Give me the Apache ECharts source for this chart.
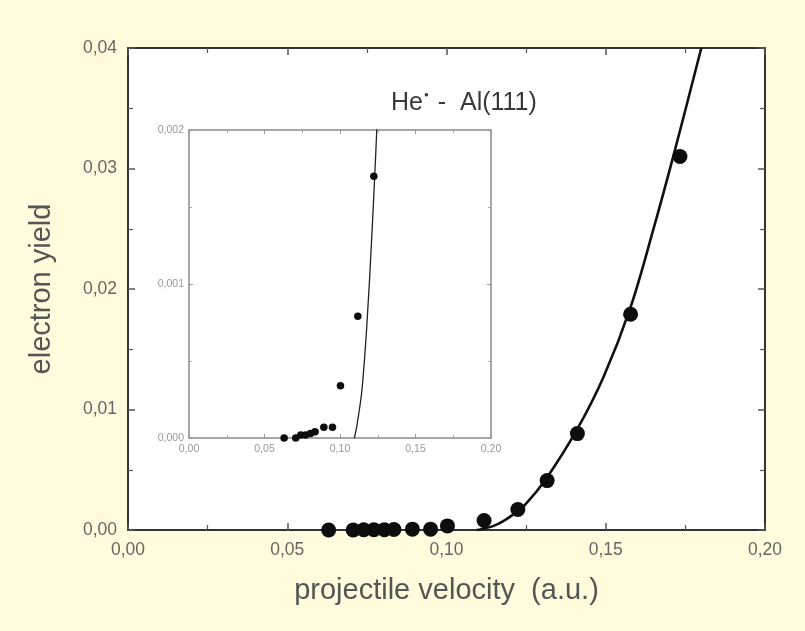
<!DOCTYPE html>
<html>
<head>
<meta charset="utf-8">
<script src="https://cdn.jsdelivr.net/npm/echarts@6/dist/echarts.min.js"></script>
<style>
html,body{margin:0;padding:0;background:#fffbdc;}
#chart{width:805px;height:631px;}
</style>
</head>
<body>
<div id="chart"></div>
<script>
// measured data points (projectile velocity in a.u., electron yield)
const velocity = [0.063, 0.0707, 0.074, 0.0772, 0.0805, 0.0835, 0.0893, 0.095, 0.1003, 0.1118, 0.1224, 0.1316, 0.1411, 0.1578, 0.1733];
const yieldValues = [0, 0, 0.00002, 0.00002, 0.00003, 0.00004, 0.00007, 0.00007, 0.00034, 0.00079, 0.0017, 0.0041, 0.008, 0.0179, 0.031];
// fitted curve
const curveVelocity = [0.1095, 0.111, 0.1144, 0.1177, 0.121, 0.1247, 0.1314, 0.1409, 0.1493, 0.1578, 0.1649, 0.1712, 0.18];
const curveYield = [0, 0.00007, 0.0003, 0.00072, 0.0013, 0.0021, 0.0043, 0.0083, 0.0127, 0.0185, 0.0249, 0.031, 0.04];
const xName = 'projectile velocity  (a.u.)';
const yName = 'electron yield';

const pts = velocity.map((v, i) => [v, yieldValues[i]]);
const curve = curveVelocity.map((v, i) => [v, curveYield[i]]);
const FONT = 'Liberation Sans, Arial, sans-serif';
const comma = d => v => v.toFixed(d).replace('.', ',');

function mkAxis(gi, pos, min, max, interval, opts) {
  return Object.assign({
    type: 'value', gridIndex: gi, position: pos, min: min, max: max, interval: interval,
    splitLine: {show: false}
  }, opts);
}

const mainLine = {color: '#333', width: 2};
const insetLine = {color: '#8a8a8a', width: 1.5};
const mainTick = {show: true, inside: true, length: 7, lineStyle: {color: '#555', width: 1.5}};
const mainMinor = {show: true, splitNumber: 2, length: 5, lineStyle: {color: '#555', width: 1.2}};
const insetTick = {show: true, inside: true, length: 4, lineStyle: {color: '#999', width: 1}};
const insetMinor = {show: true, splitNumber: 2, length: 3, lineStyle: {color: '#aaa', width: 1}};

const option = {
  backgroundColor: '#fffbdc',
  animation: false,
  textStyle: {fontFamily: FONT},
  title: {
    text: 'He{s|●} -  Al(111)',
    left: 386, top: 86,
    textStyle: {
      fontFamily: FONT, fontSize: 25, fontWeight: 'normal', color: '#3a3a3a',
      rich: {s: {fontSize: 8, verticalAlign: 'top', padding: [0, 2, 14, 1], color: '#3a3a3a', fontFamily: FONT}}
    }
  },
  grid: [
    {left: 128, top: 48, width: 637, height: 482, show: true, backgroundColor: '#ffffff', borderWidth: 0},
    {left: 189, top: 130, width: 302, height: 308, show: true, backgroundColor: '#ffffff', borderWidth: 0}
  ],
  xAxis: [
    mkAxis(0, 'bottom', 0, 0.2, 0.05, {
      name: xName, nameLocation: 'middle', nameGap: 46,
      nameTextStyle: {fontFamily: FONT, fontSize: 29, color: '#555'},
      axisLine: {show: true, onZero: false, lineStyle: mainLine},
      axisTick: mainTick, minorTick: mainMinor,
      axisLabel: {formatter: comma(2), fontSize: 17.5, color: '#666', margin: 11, fontFamily: FONT}
    }),
    mkAxis(0, 'top', 0, 0.2, 0.05, {
      axisLine: {show: true, onZero: false, lineStyle: mainLine},
      axisTick: mainTick, minorTick: mainMinor, axisLabel: {show: false}
    }),
    mkAxis(1, 'bottom', 0, 0.2, 0.05, {
      axisLine: {show: true, onZero: false, lineStyle: insetLine},
      axisTick: insetTick, minorTick: insetMinor,
      axisLabel: {formatter: comma(2), fontSize: 10.5, color: '#999', margin: 6, fontFamily: FONT}
    }),
    mkAxis(1, 'top', 0, 0.2, 0.05, {
      axisLine: {show: true, onZero: false, lineStyle: insetLine},
      axisTick: insetTick, minorTick: insetMinor, axisLabel: {show: false}
    })
  ],
  yAxis: [
    mkAxis(0, 'left', 0, 0.04, 0.01, {
      name: yName, nameLocation: 'middle', nameGap: 72, nameRotate: 90,
      nameTextStyle: {fontFamily: FONT, fontSize: 29, color: '#555'},
      axisLine: {show: true, onZero: false, lineStyle: mainLine},
      axisTick: mainTick, minorTick: mainMinor,
      axisLabel: {formatter: comma(2), fontSize: 17.5, color: '#666', margin: 11, fontFamily: FONT}
    }),
    mkAxis(0, 'right', 0, 0.04, 0.01, {
      axisLine: {show: true, onZero: false, lineStyle: mainLine},
      axisTick: mainTick, minorTick: mainMinor, axisLabel: {show: false}
    }),
    mkAxis(1, 'left', 0, 0.002, 0.001, {
      axisLine: {show: true, onZero: false, lineStyle: insetLine},
      axisTick: insetTick, minorTick: insetMinor,
      axisLabel: {formatter: comma(3), fontSize: 10.5, color: '#999', margin: 5, fontFamily: FONT}
    }),
    mkAxis(1, 'right', 0, 0.002, 0.001, {
      axisLine: {show: true, onZero: false, lineStyle: insetLine},
      axisTick: insetTick, minorTick: insetMinor, axisLabel: {show: false}
    })
  ],
  series: [
    {type: 'line', xAxisIndex: 0, yAxisIndex: 0, data: curve, smooth: 0.35,
     showSymbol: false, clip: true, lineStyle: {color: '#111', width: 2.6}, z: 3},
    {type: 'scatter', xAxisIndex: 0, yAxisIndex: 0, data: pts, symbolSize: 15,
     itemStyle: {color: '#0d0d0d', opacity: 1}, z: 4},
    {type: 'line', xAxisIndex: 2, yAxisIndex: 2, data: curve, smooth: 0.35,
     showSymbol: false, clip: true, lineStyle: {color: '#222', width: 1.3}, z: 5},
    {type: 'scatter', xAxisIndex: 2, yAxisIndex: 2, data: pts, symbolSize: 7.5, clip: true,
     itemStyle: {color: '#0d0d0d', opacity: 1}, z: 6}
  ]
};
const chart = echarts.init(document.getElementById('chart'), null, {renderer: 'canvas'});
chart.setOption(option);
</script>
</body>
</html>
